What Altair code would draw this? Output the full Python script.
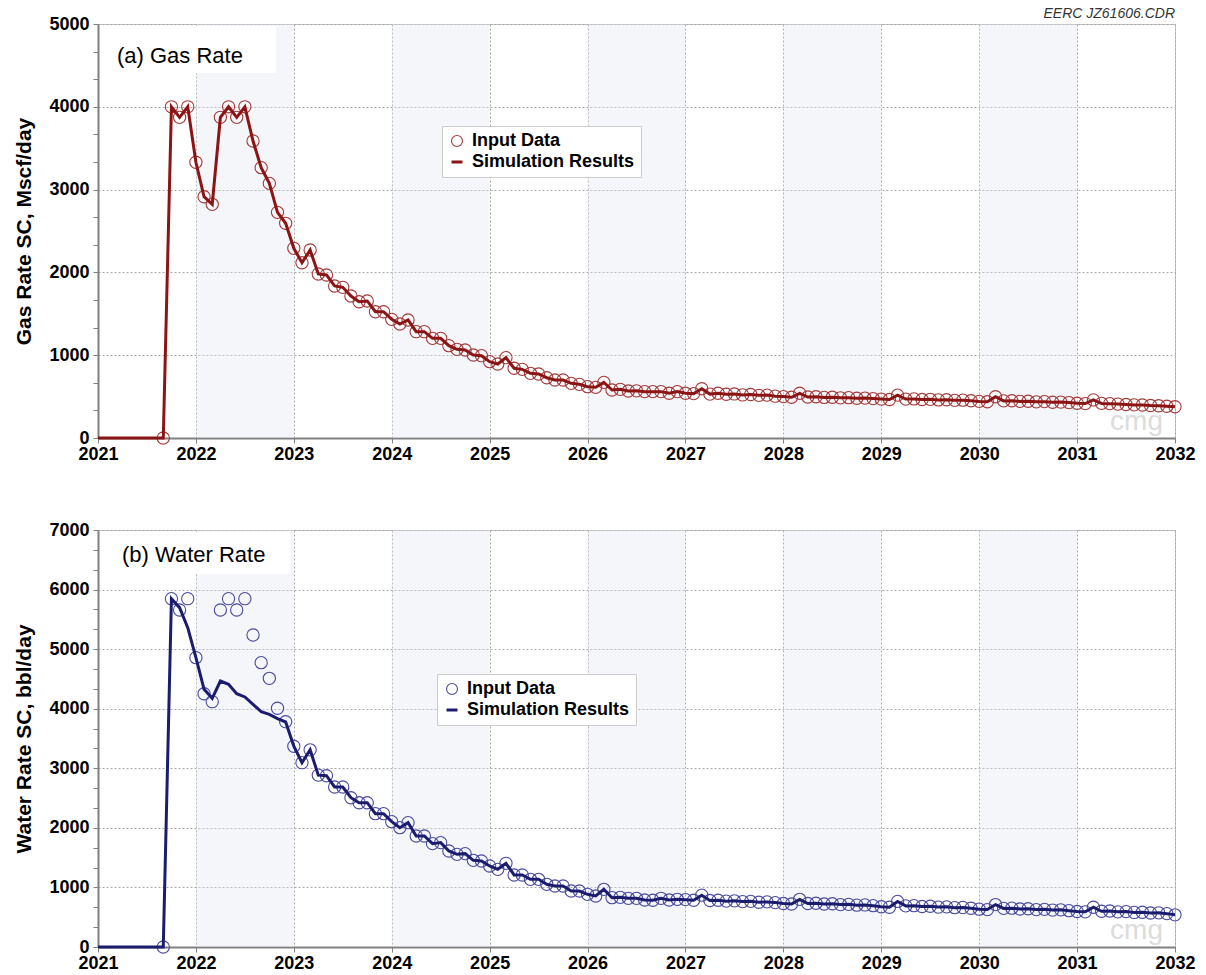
import altair as alt
import pandas as pd

FONT = "Liberation Sans"
IN_LABEL = "Input Data"
SIM_LABEL = "Simulation Results"

# Monthly gas rate (Mscf/day), Sep 2021 .. Jan 2032
gas_input = [
    0, 4000, 3873, 4000,
    3330, 2914, 2822, 3873, 4000, 3873, 4000, 3587, 3265, 3075, 2725, 2593,
    2291, 2117, 2270, 1981, 1969, 1836, 1820, 1715, 1646, 1655, 1525, 1525,
    1433, 1377, 1425, 1284, 1284, 1204, 1204, 1115, 1071, 1063, 1002, 994,
    922, 894, 970, 842, 829, 781, 773, 728, 700, 700, 660, 648,
    620, 612, 672, 580, 588, 568, 570, 560, 560, 560, 540, 560,
    540, 536, 595, 530, 540, 528, 532, 520, 525, 515, 518, 505,
    500, 492, 540, 495, 498, 490, 492, 485, 487, 480, 482, 476,
    470, 465, 518, 470, 472, 465, 467, 460, 462, 455, 457, 450,
    442, 438, 498, 448, 450, 442, 444, 437, 439, 432, 434, 428,
    420, 416, 460, 418, 415, 410, 405, 400, 398, 392, 390, 384,
    378,
]
# simulated gas rate follows the history match month by month
gas_sim = list(gas_input)

# Monthly water rate (bbl/day), Sep 2021 .. Jan 2032
water_input = [
    0, 5847, 5657, 5847,
    4857, 4252, 4118, 5657, 5847, 5657, 5847, 5238, 4773, 4510, 4007, 3782,
    3370, 3094, 3310, 2885, 2875, 2686, 2686, 2506, 2422, 2422, 2238, 2238,
    2104, 2003, 2087, 1863, 1863, 1735, 1752, 1612, 1556, 1567, 1455, 1444,
    1360, 1304, 1405, 1209, 1209, 1136, 1136, 1052, 1024, 1024, 940, 940,
    884, 856, 968, 828, 834, 817, 817, 789, 784, 817, 789, 800,
    795, 785, 870, 780, 785, 770, 775, 762, 766, 752, 757, 745,
    730, 722, 800, 730, 735, 722, 726, 712, 716, 702, 706, 694,
    675, 668, 765, 690, 694, 680, 684, 670, 674, 660, 664, 650,
    635, 628, 712, 648, 652, 638, 642, 628, 632, 620, 624, 610,
    596, 590, 668, 600, 604, 590, 594, 580, 584, 570, 574, 560,
    540,
]
# simulated water rate: smoother through 2022, then on top of the data
water_sim_early = [0, 5847, 5696, 5360,
                   4857, 4326, 4175, 4465, 4409, 4252, 4197, 4074, 3950, 3906, 3833, 3777]
water_sim = water_sim_early + water_input[len(water_sim_early):]

shaded_years = [2022, 2024, 2026, 2028, 2030]
year_ticks = list(range(2021, 2033))

PLOT_W = 1077


def month_axis(n):
    return [2021 + (8 + i) / 12 for i in range(n)]


def panel(tag, ytitle, values, sim, ymax, line_color, point_color, height,
          legend_xy, box, label_xy):
    xs = month_axis(len(values))
    df_in = pd.DataFrame({"t": xs, "v": values, "series": IN_LABEL})
    df_sim = pd.DataFrame({"t": [2021.0] + xs, "v": [0] + sim})
    df_band = pd.DataFrame({"t": shaded_years, "t2": [y + 1 for y in shaded_years]})
    one = pd.DataFrame({"k": [0]})

    yvals = [k * 1000 / 3 for k in range(int(ymax / 1000) * 3 + 1)]
    major = "abs(datum.value % 1000) < 0.5"

    x_enc = alt.X("t:Q", title=None,
                  scale=alt.Scale(domain=[2021, 2032], nice=False, zero=False),
                  axis=alt.Axis(values=year_ticks, format="d", tickSize=5,
                                labelPadding=2, labelFlush=False))
    y_enc = alt.Y("v:Q", title=ytitle,
                  scale=alt.Scale(domain=[0, ymax], nice=False),
                  axis=alt.Axis(values=yvals, format="d", tickSize=5,
                                labelPadding=4, titlePadding=14,
                                labelExpr=f"{major} ? datum.label : ''",
                                gridOpacity={"condition": {"test": major, "value": 1},
                                             "value": 0}))

    bands = alt.Chart(df_band).mark_rect(fill="#dfe4ec", opacity=0.32).encode(
        x=x_enc, x2="t2:Q")

    legend = alt.Legend(title=None, orient="none", legendX=legend_xy[0],
                        legendY=legend_xy[1], fillColor="white",
                        strokeColor="#cccccc", padding=6, rowPadding=3,
                        labelOffset=6, symbolSize=120, labelLimit=400)
    dom = [IN_LABEL, SIM_LABEL]
    points = alt.Chart(df_in).mark_point(filled=False, size=150, opacity=1).encode(
        x=x_enc, y=y_enc,
        color=alt.Color("series:N", scale=alt.Scale(domain=dom, range=[point_color, line_color]),
                        legend=legend),
        shape=alt.Shape("series:N", scale=alt.Scale(domain=dom, range=["circle", "stroke"]),
                        legend=legend),
        strokeWidth=alt.StrokeWidth("series:N", scale=alt.Scale(domain=dom, range=[1.1, 3]),
                                    legend=legend),
    )
    line = alt.Chart(df_sim).mark_line(color=line_color, strokeWidth=3).encode(
        x=x_enc, y=y_enc)

    box_mark = alt.Chart(one).mark_rect(fill="white").encode(
        x=alt.value(2), x2=alt.value(box[0]), y=alt.value(2), y2=alt.value(box[1]))
    label = alt.Chart(one).mark_text(align="left", baseline="middle", font=FONT,
                                     fontSize=22, color="black").encode(
        x=alt.value(label_xy[0]), y=alt.value(label_xy[1]), text=alt.value(tag))
    mark_logo = alt.Chart(one).mark_text(align="right", baseline="alphabetic", font=FONT,
                                         fontSize=28, color="#dcdcdc").encode(
        x=alt.value(PLOT_W - 12), y=alt.value(height - 8), text=alt.value("cmg"))

    return alt.layer(bands, box_mark, label, mark_logo, points, line).properties(
        width=PLOT_W, height=height)


gas = panel("(a) Gas Rate", "Gas Rate SC, Mscf/day", gas_input, gas_sim, 5000,
            "#8b1414", "#a33a3a", 414, (344, 102), (178, 49), (19, 32)).properties(
    title=alt.TitleParams("EERC JZ61606.CDR", anchor="end", frame="group",
                          fontSize=14, fontStyle="italic", fontWeight="normal",
                          font=FONT, color="#333333", offset=-6))
water = panel("(b) Water Rate", "Water Rate SC, bbl/day", water_input, water_sim, 7000,
              "#1c1c6e", "#4a4a9e", 417, (339, 144), (192, 44), (24, 25))

chart = alt.vconcat(gas, water, spacing=56).resolve_scale(
    color="independent", shape="independent", strokeWidth="independent"
).properties(
    padding={"left": 13, "top": 6, "right": 5, "bottom": 2}
).configure_axis(
    labelFont=FONT, labelFontSize=18, labelFontWeight="bold", labelColor="black",
    titleFont=FONT, titleFontSize=21, titleFontWeight="bold", titleColor="black",
    gridColor="#a8a8a8", gridDash=[2, 2], gridWidth=1,
    domainColor="#808080", domainWidth=2, tickColor="#808080", tickWidth=1,
).configure_legend(
    labelFont=FONT, labelFontSize=18, labelFontWeight="bold", labelColor="black",
).configure_view(stroke="#c8c8c8", strokeWidth=1)

chart.save("out.html", embed_options={"renderer": "svg", "actions": False})
